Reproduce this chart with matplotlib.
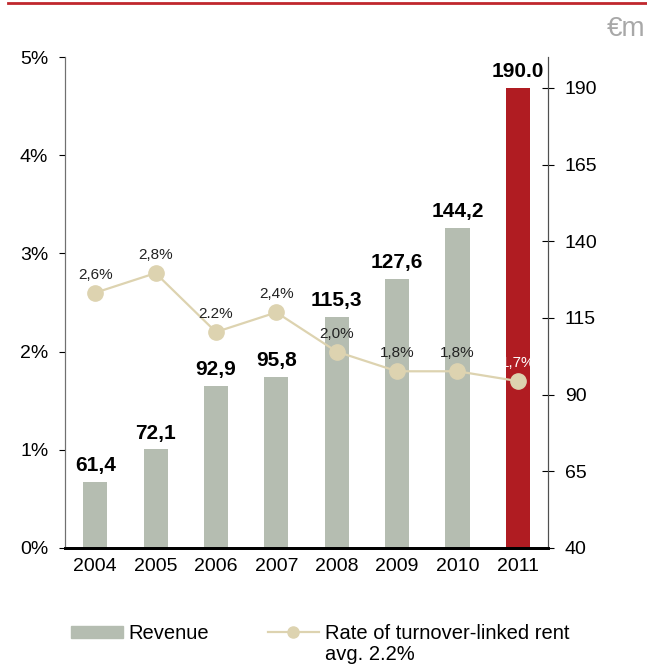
import matplotlib.pyplot as plt
from matplotlib.lines import Line2D
from matplotlib.patches import Patch

plt.rcParams["font.family"] = ["Liberation Sans", "DejaVu Sans"]

years = ["2004", "2005", "2006", "2007", "2008", "2009", "2010", "2011"]
revenue = [61.4, 72.1, 92.9, 95.8, 115.3, 127.6, 144.2, 190.0]
revenue_labels = ["61,4", "72,1", "92,9", "95,8", "115,3", "127,6", "144,2", "190.0"]
rate = [2.6, 2.8, 2.2, 2.4, 2.0, 1.8, 1.8, 1.7]
rate_labels = ["2,6%", "2,8%", "2.2%", "2,4%", "2,0%", "1,8%", "1,8%", "1,7%"]

GREY = "#b5bdb1"
RED = "#b01c22"
BEIGE = "#ddd3b0"


def main():
    fig = plt.figure(figsize=(6.47, 6.65), dpi=100)
    ax = fig.add_axes([0.1005, 0.176, 0.7465, 0.738])
    ax2 = ax.twinx()

    x = range(len(years))
    colors = [GREY] * (len(years) - 1) + [RED]

    # bars on the right scale
    ax.bar(x, revenue, width=0.4, color=colors, zorder=2)
    ax.set_ylim(40, 200)
    ax.set_yticks([40, 65, 90, 115, 140, 165, 190])
    ax.yaxis.tick_right()
    ax.tick_params(axis="y", direction="inout", length=8, pad=8,
                   labelsize=14, colors="black")
    for i, v in enumerate(revenue):
        ax.annotate(revenue_labels[i], (i, v), xytext=(0, 5),
                    textcoords="offset points", ha="center", va="bottom",
                    fontsize=15, fontweight="bold")

    # line on the left scale
    ax2.plot(x, rate, color=BEIGE, lw=1.6, marker="o", ms=11, zorder=3)
    ax2.set_ylim(0, 5)
    ax2.set_yticks([0, 1, 2, 3, 4, 5])
    ax2.set_yticklabels(["0%", "1%", "2%", "3%", "4%", "5%"])
    ax2.yaxis.tick_left()
    ax2.tick_params(axis="y", direction="out", length=4, pad=8, labelsize=14)
    for i, v in enumerate(rate):
        col = "white" if i == len(rate) - 1 else "#222222"
        ax2.annotate(rate_labels[i], (i, v), xytext=(0, 8),
                     textcoords="offset points", ha="center", va="bottom",
                     fontsize=11, color=col)

    ax.set_xlim(-0.5, len(years) - 0.5)
    ax.set_xticks(list(x))
    ax.set_xticklabels(years, fontsize=14)
    ax.tick_params(axis="x", length=0, pad=7)

    for a in (ax, ax2):
        a.spines["top"].set_visible(False)
        a.spines["bottom"].set_linewidth(2)
        a.spines["bottom"].set_color("black")
        a.spines["left"].set_color("#707070")
        a.spines["right"].set_color("#505050")

    # header line and unit
    fig.add_artist(Line2D([0.012, 1.0], [0.995, 0.995], color="#c0272d", lw=2))
    fig.text(0.997, 0.957, "€m", ha="right", va="center", fontsize=20,
             color="#a8a8a8")

    handles = [
        Patch(color=GREY),
        Line2D([], [], color=BEIGE, lw=1.6, marker="o", ms=8),
    ]
    fig.legend(handles, ["Revenue", "Rate of turnover-linked rent"],
               loc="upper left", bbox_to_anchor=(0.082, 0.0887), ncol=2,
               frameon=False, fontsize=14.5, handlelength=2.55,
               handleheight=0.6, handletextpad=0.3, columnspacing=2.9)
    fig.text(0.503, 0.007, "avg. 2.2%", fontsize=14.5, ha="left",
             va="baseline")

    fig.savefig("out.png", dpi=100)


if __name__ == "__main__":
    main()
